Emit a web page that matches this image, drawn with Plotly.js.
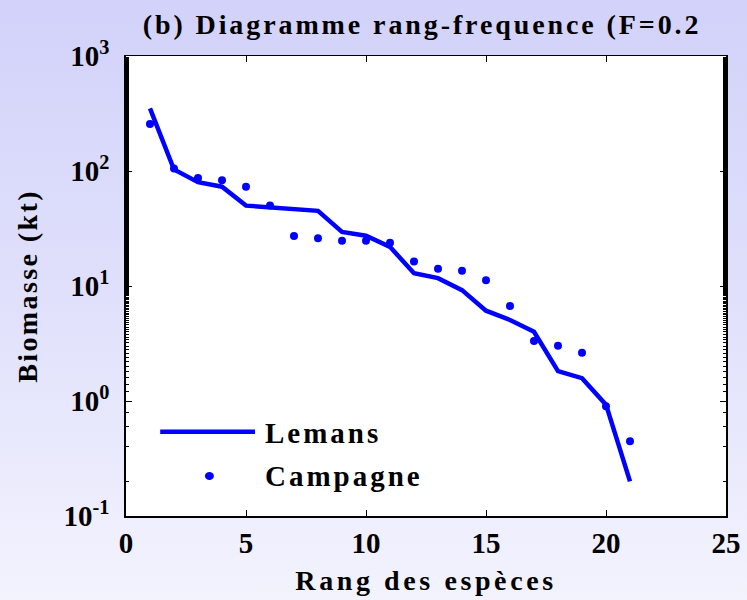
<!DOCTYPE html>
<html>
<head>
<meta charset="utf-8">
<script src="https://cdn.plot.ly/plotly-3.0.1.min.js"></script>
<style>
  html, body { margin: 0; padding: 0; }
  body { width: 747px; height: 600px; background: linear-gradient(to bottom, #d2d2fa 0%, #e2e2fc 55%, #f3f3fe 100%); }
  #chart { width: 747px; height: 600px; }
  .gtitle { letter-spacing: 2.9px; }
  .xtitle { letter-spacing: 3.6px; }
  .ytitle { letter-spacing: 2.4px; }
  .annotation-text { letter-spacing: 3px; }
</style>
</head>
<body>
<div id="chart"></div>
<script>
const rank = [1,2,3,4,5,6,7,8,9,10,11,12,13,14,15,16,17,18,19,20,21];
const lemans = [350,103,80,73,50,48,47,45,29.5,27.4,21.9,12.9,11.7,9.2,6.1,5.06,4.0,1.82,1.58,0.93,0.2];
const campagne = [256,105,87,83,73,50,27.2,26,24.8,24.7,23.8,16.3,14.1,13.6,11.2,6.7,3.33,3.03,2.63,0.90,0.446];
const yTickVals = [0.1,1,10,100,1000];
const yTickText = ['10<sup>-1</sup>','10<sup>0</sup>','10<sup>1</sup>','10<sup>2</sup>','10<sup>3</sup>'];
const xTickVals = [0,5,10,15,20,25];
const seriesNames = ['Lemans','Campagne'];

const F = 'Liberation Serif';
const blue = '#0000ff';

const traces = [
  {x: rank, y: lemans, mode: 'lines', name: seriesNames[0], line: {color: blue, width: 4.5}, showlegend: false},
  {x: rank, y: campagne, mode: 'markers', name: seriesNames[1], marker: {color: blue, size: 8}, showlegend: false}
];

const layout = {
  width: 747, height: 600,
  paper_bgcolor: 'rgba(0,0,0,0)',
  plot_bgcolor: '#ffffff',
  margin: {l: 126, r: 21, t: 56, b: 84},
  title: {text: '(b) Diagramme rang-frequence (F=0.2', font: {family: F, size: 28, color: '#000', weight: 'bold'}, x: 0.565, xanchor: 'center', y: 0.96, yanchor: 'middle'},
  xaxis: {
    range: [0, 25], tickvals: xTickVals, ticks: 'inside', ticklen: 6, tickcolor: '#000',
    showline: true, linecolor: '#000', linewidth: 1.5, mirror: 'ticks', showgrid: false, zeroline: false,
    tickfont: {family: F, size: 29, color: '#000', weight: 'bold'}, ticklabelstandoff: 1,
    title: {text: 'Rang des espèces', font: {family: F, size: 28, color: '#000', weight: 'bold'}, standoff: 12}
  },
  yaxis: {
    type: 'log', range: [-1, 3], tickvals: yTickVals, ticktext: yTickText,
    ticks: 'inside', ticklen: 6, tickcolor: '#000',
    minor: {ticks: 'inside', ticklen: 3, tickcolor: '#000', showgrid: false},
    showline: true, linecolor: '#000', linewidth: 1.8, mirror: 'ticks', showgrid: false, zeroline: false,
    tickfont: {family: F, size: 29, color: '#000', weight: 'bold'}, ticklabelstandoff: 9,
    title: {text: 'Biomasse (kt)', font: {family: F, size: 28, color: '#000', weight: 'bold'}, standoff: 18}
  },
  shapes: [
    {type: 'line', xref: 'paper', yref: 'paper', x0: 0.057, x1: 0.215, y0: 0.183, y1: 0.183, line: {color: blue, width: 4.5}},
    {type: 'circle', xref: 'paper', yref: 'paper', xsizemode: 'pixel', ysizemode: 'pixel', xanchor: 0.139, yanchor: 0.087, x0: -4.5, x1: 4.5, y0: -4, y1: 4, fillcolor: blue, line: {color: blue, width: 0}}
  ],
  annotations: [
    {text: seriesNames[0], xref: 'paper', yref: 'paper', x: 0.228, y: 0.181, xanchor: 'left', yanchor: 'middle', showarrow: false, font: {family: F, size: 29, color: '#000', weight: 'bold'}},
    {text: seriesNames[1], xref: 'paper', yref: 'paper', x: 0.228, y: 0.087, xanchor: 'left', yanchor: 'middle', showarrow: false, font: {family: F, size: 29, color: '#000', weight: 'bold'}}
  ]
};

Plotly.newPlot('chart', traces, layout, {displayModeBar: false, staticPlot: true});
</script>
</body>
</html>
